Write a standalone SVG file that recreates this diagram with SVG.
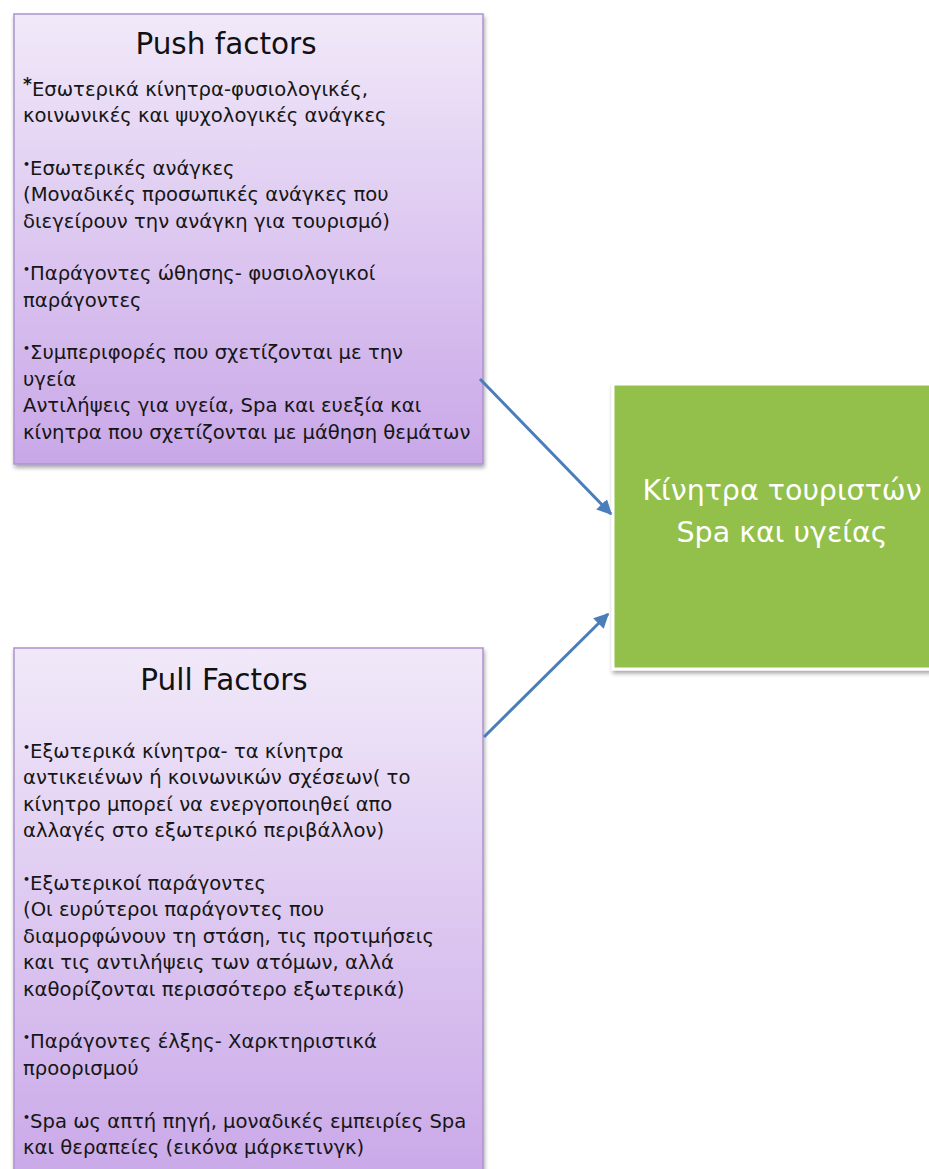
<svg xmlns="http://www.w3.org/2000/svg" width="929" height="1169" viewBox="0 0 929 1169">
<defs>
<linearGradient id="purp" x1="0" y1="0" x2="0" y2="1">
<stop offset="0" stop-color="#f1e9f9"/>
<stop offset="1" stop-color="#c9a7e8"/>
</linearGradient>
<filter id="sh" x="-5%" y="-5%" width="115%" height="115%">
<feGaussianBlur in="SourceAlpha" stdDeviation="2"/>
<feOffset dx="1" dy="3" result="b"/>
<feComponentTransfer><feFuncA type="linear" slope="0.35"/></feComponentTransfer>
<feMerge><feMergeNode/><feMergeNode in="SourceGraphic"/></feMerge>
</filter>
<marker id="ah" viewBox="0 0 10 10" refX="9" refY="5" markerWidth="5" markerHeight="5" orient="auto" markerUnits="strokeWidth">
<path d="M0,0 L10,5 L0,10 z" fill="#4a7ebb"/>
</marker>
</defs>
<style>
.box{fill:url(#purp);stroke:#ad92cf;stroke-width:1.5}
.title{font-family:"DejaVu Sans","Liberation Sans",sans-serif;font-size:29.5px;fill:#111;text-anchor:middle}
.body{font-family:"DejaVu Sans","Liberation Sans",sans-serif;font-size:19.6px;fill:#161616}
.b{font-size:11px;font-weight:bold}
.conn{stroke:#4a7ebb;stroke-width:3;fill:none;marker-end:url(#ah)}
.green{fill:#92c04b;stroke:#ffffff;stroke-width:3}
.gtext{font-family:"DejaVu Sans","Liberation Sans",sans-serif;font-size:28.5px;fill:#ffffff;text-anchor:middle}
</style>
<rect width="929" height="1169" fill="#ffffff"/>

<g id="push">
<rect class="box" x="14" y="14" width="469" height="450" filter="url(#sh)"/>
<text class="title" x="226" y="54">Push factors</text>
<text class="body">
<tspan x="23" y="96"><tspan font-size="17" font-weight="bold" dy="-6">*</tspan><tspan dy="6">Εσωτερικά κίνητρα-φυσιολογικές,</tspan></tspan>
<tspan x="23" y="122.4">κοινωνικές και ψυχολογικές ανάγκες</tspan>
<tspan x="23" y="175"><tspan class="b" dy="-7">•</tspan><tspan dy="7">Εσωτερικές ανάγκες</tspan></tspan>
<tspan x="23" y="201.4">(Μοναδικές προσωπικές ανάγκες που</tspan>
<tspan x="23" y="227.8">διεγείρουν την ανάγκη για τουρισμό)</tspan>
<tspan x="23" y="280.4"><tspan class="b" dy="-7">•</tspan><tspan dy="7">Παράγοντες ώθησης- φυσιολογικοί</tspan></tspan>
<tspan x="23" y="306.8">παράγοντες</tspan>
<tspan x="23" y="359.4"><tspan class="b" dy="-7">•</tspan><tspan dy="7">Συμπεριφορές που σχετίζονται με την</tspan></tspan>
<tspan x="23" y="385.8">υγεία</tspan>
<tspan x="23" y="412.2">Αντιλήψεις για υγεία, Spa και ευεξία και</tspan>
<tspan x="23" y="438.6">κίνητρα που σχετίζονται με μάθηση θεμάτων</tspan>
</text>
</g>

<g id="pull">
<rect class="box" x="14" y="648" width="469" height="540" filter="url(#sh)"/>
<text class="title" x="224" y="690">Pull Factors</text>
<text class="body">
<tspan x="23" y="758"><tspan class="b" dy="-7">•</tspan><tspan dy="7">Εξωτερικά κίνητρα- τα κίνητρα</tspan></tspan>
<tspan x="23" y="784.4">αντικειένων ή κοινωνικών σχέσεων( το</tspan>
<tspan x="23" y="810.8">κίνητρο μπορεί να ενεργοποιηθεί απο</tspan>
<tspan x="23" y="837.2">αλλαγές στο εξωτερικό περιβάλλον)</tspan>
<tspan x="23" y="890"><tspan class="b" dy="-7">•</tspan><tspan dy="7">Εξωτερικοί παράγοντες</tspan></tspan>
<tspan x="23" y="916.4">(Οι ευρύτεροι παράγοντες που</tspan>
<tspan x="23" y="942.8">διαμορφώνουν τη στάση, τις προτιμήσεις</tspan>
<tspan x="23" y="969.2">και τις αντιλήψεις των ατόμων, αλλά</tspan>
<tspan x="23" y="995.6">καθορίζονται περισσότερο εξωτερικά)</tspan>
<tspan x="23" y="1048.4"><tspan class="b" dy="-7">•</tspan><tspan dy="7">Παράγοντες έλξης- Χαρκτηριστικά</tspan></tspan>
<tspan x="23" y="1074.8">προορισμού</tspan>
<tspan x="23" y="1127.6"><tspan class="b" dy="-7">•</tspan><tspan dy="7">Spa ως απτή πηγή, μοναδικές εμπειρίες Spa</tspan></tspan>
<tspan x="23" y="1154">και θεραπείες (εικόνα μάρκετινγκ)</tspan>
</text>
</g>

<g id="target">
<rect class="green" x="613" y="384" width="330" height="285" filter="url(#sh)"/>
<text class="gtext" x="782" y="500">Κίνητρα τουριστών</text>
<text class="gtext" x="782" y="542">Spa και υγείας</text>
</g>

<g id="connectors">
<line class="conn" x1="480" y1="379" x2="611" y2="514"/>
<line class="conn" x1="484" y1="737" x2="608" y2="614"/>
</g>
</svg>
